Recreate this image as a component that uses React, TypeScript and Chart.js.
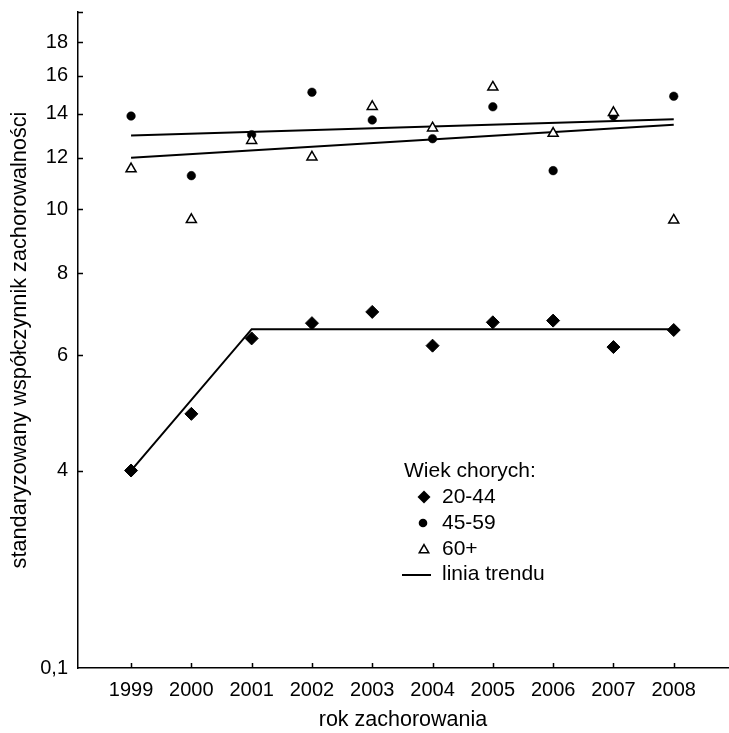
import React, { useEffect, useRef } from 'react';
import { Chart, registerables } from 'chart.js';

Chart.register(...registerables);

// ---- data ----
const years = [1999, 2000, 2001, 2002, 2003, 2004, 2005, 2006, 2007, 2008];
const age20to44 = [4.0, 4.88, 6.36, 6.71, 6.98, 6.2, 6.73, 6.77, 6.17, 6.55];
const age45to59 = [13.88, 11.26, 13.0, 15.09, 13.69, 12.82, 14.34, 11.46, 13.89, 14.88];
const age60plus = [11.53, 9.65, 12.74, 12.02, 14.35, 13.31, 15.36, 13.06, 14.05, 9.63];

const trend20to44Years = [1999, 2001, 2008];
const trend20to44Values = [4.0, 6.57, 6.57];
const trend45to59Years = [1999, 2008];
const trend45to59Values = [12.96, 13.73];
const trend60plusYears = [1999, 2008];
const trend60plusValues = [11.99, 13.46];

const yTickValues = [2, 4, 6, 8, 10, 12, 14, 16, 18];
const yTickLabels = ['0,1', '4', '6', '8', '10', '12', '14', '16', '18'];
const yTickMarks = [4, 6, 8, 10, 12, 14, 16, 18, 20];

const xTitle = 'rok zachorowania';
const yTitle = 'standaryzowany współczynnik zachorowalności';
const legendTitle = 'Wiek chorych:';
const legendLabels = ['20-44', '45-59', '60+', 'linia trendu'];

const FONT = '"Liberation Sans", Arial, Helvetica, sans-serif';

const toPoints = (xs: number[], ys: number[]) => xs.map((x, i) => ({ x, y: ys[i] }));

const inwardTicks = {
  id: 'inwardTicks',
  afterDraw(chart: any) {
    const { ctx, chartArea, scales } = chart;
    ctx.save();
    ctx.strokeStyle = '#000';
    ctx.lineWidth = 1.5;
    ctx.beginPath();
    for (const v of yTickMarks) {
      const y = Math.round(scales.y.getPixelForValue(v)) + 0.5;
      ctx.moveTo(chartArea.left, y);
      ctx.lineTo(chartArea.left + 5, y);
    }
    for (const v of years) {
      const x = Math.round(scales.x.getPixelForValue(v)) + 0.5;
      ctx.moveTo(x, chartArea.bottom);
      ctx.lineTo(x, chartArea.bottom - 5);
    }
    ctx.stroke();
    ctx.restore();
  },
};

const customLegend = {
  id: 'customLegend',
  afterDraw(chart: any) {
    const { ctx } = chart;
    ctx.save();
    ctx.fillStyle = '#000';
    ctx.strokeStyle = '#000';
    ctx.font = `21px ${FONT}`;
    ctx.textBaseline = 'middle';
    ctx.textAlign = 'left';
    ctx.fillText(legendTitle, 404, 471);
    const rows = [497, 523, 549, 574];
    rows.forEach((y, i) => ctx.fillText(legendLabels[i], 442, y));
    // diamond
    ctx.beginPath();
    ctx.moveTo(424 - 6.5, rows[0]);
    ctx.lineTo(424, rows[0] - 6.5);
    ctx.lineTo(424 + 6.5, rows[0]);
    ctx.lineTo(424, rows[0] + 6.5);
    ctx.closePath();
    ctx.fill();
    // circle
    ctx.beginPath();
    ctx.arc(423, rows[1], 4.3, 0, Math.PI * 2);
    ctx.fill();
    // triangle
    const r = 5.5;
    const cy = rows[2] + 1;
    ctx.beginPath();
    ctx.moveTo(424, cy - r);
    ctx.lineTo(424 + r * 0.866, cy + r / 2);
    ctx.lineTo(424 - r * 0.866, cy + r / 2);
    ctx.closePath();
    ctx.fillStyle = '#fff';
    ctx.fill();
    ctx.lineWidth = 1.5;
    ctx.stroke();
    // line
    ctx.beginPath();
    ctx.lineWidth = 2;
    ctx.moveTo(402, rows[3] + 1);
    ctx.lineTo(431, rows[3] + 1);
    ctx.stroke();
    ctx.restore();
  },
};

export default function App() {
  const canvasRef = useRef<HTMLCanvasElement | null>(null);

  useEffect(() => {
    const canvas = canvasRef.current;
    if (!canvas) return;
    const trendStyle = {
      showLine: true,
      pointRadius: 0,
      pointHoverRadius: 0,
      borderColor: '#000',
      backgroundColor: '#000',
      borderWidth: 2,
      fill: false,
      order: 10,
    };
    const chart = new Chart(canvas, {
      type: 'scatter',
      data: {
        datasets: [
          {
            label: legendLabels[0],
            data: toPoints(years, age20to44),
            pointStyle: 'rectRot',
            radius: 6.5,
            backgroundColor: '#000',
            borderColor: '#000',
            borderWidth: 1,
            order: 1,
          },
          {
            label: legendLabels[1],
            data: toPoints(years, age45to59),
            pointStyle: 'circle',
            radius: 4.3,
            backgroundColor: '#000',
            borderColor: '#000',
            borderWidth: 0.5,
            order: 3,
          },
          {
            label: legendLabels[2],
            data: toPoints(years, age60plus),
            pointStyle: 'triangle',
            radius: 5.8,
            backgroundColor: '#fff',
            borderColor: '#000',
            borderWidth: 1.5,
            order: 2,
          },
          { label: 'trend 20-44', data: toPoints(trend20to44Years, trend20to44Values), ...trendStyle },
          { label: 'trend 45-59', data: toPoints(trend45to59Years, trend45to59Values), ...trendStyle },
          { label: 'trend 60+', data: toPoints(trend60plusYears, trend60plusValues), ...trendStyle },
        ] as any,
      },
      options: {
        animation: false,
        responsive: false,
        layout: { autoPadding: false, padding: { top: 12, right: 1, left: 0, bottom: 0 } },
        plugins: {
          legend: { display: false },
          tooltip: { enabled: false },
        },
        scales: {
          x: {
            type: 'linear',
            min: 1998.12,
            max: 2008.9,
            afterBuildTicks: (s: any) => {
              s.ticks = years.map((v) => ({ value: v }));
            },
            afterFit: (s: any) => {
              s.height = 65;
              s.paddingLeft = 0;
              s.paddingRight = 0;
            },
            grid: { display: false, drawTicks: false },
            border: { display: true, color: '#000', width: 1.5 },
            ticks: {
              autoSkip: false,
              maxRotation: 0,
              padding: 10,
              color: '#000',
              font: { family: FONT, size: 20 },
              callback: (v: any) => String(v),
            },
            title: {
              display: true,
              text: xTitle,
              color: '#000',
              font: { family: FONT, size: 21.5 },
              padding: { top: 1.5, bottom: 0 },
            },
          },
          y: {
            type: 'logarithmic',
            min: 2,
            max: 20,
            afterBuildTicks: (s: any) => {
              s.ticks = yTickValues.map((v) => ({ value: v }));
            },
            afterFit: (s: any) => {
              s.width = 78;
              s.paddingTop = 0;
              s.paddingBottom = 0;
            },
            grid: { display: false, drawTicks: false },
            border: { display: true, color: '#000', width: 1.5 },
            ticks: {
              autoSkip: false,
              padding: 10,
              color: '#000',
              font: { family: FONT, size: 20 },
              callback: (v: any) => {
                const i = yTickValues.indexOf(Number(v));
                return i >= 0 ? yTickLabels[i] : '';
              },
            },
            title: {
              display: true,
              text: yTitle,
              color: '#000',
              font: { family: FONT, size: 21.7 },
              padding: { top: 7, bottom: 0 },
            },
          },
        } as any,
      },
      plugins: [inwardTicks, customLegend],
    });
    return () => chart.destroy();
  }, []);

  return (
    <div style={{ position: 'absolute', left: 0, top: 0, width: 729, height: 733, background: '#fff' }}>
      <canvas ref={canvasRef} width={729} height={733} style={{ display: 'block' }} />
    </div>
  );
}
